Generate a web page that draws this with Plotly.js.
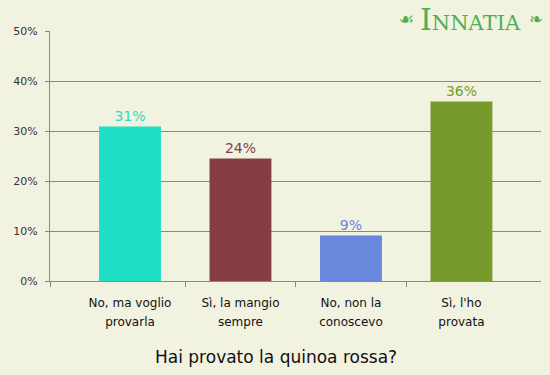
<!DOCTYPE html>
<html><head><meta charset="utf-8">
<script src="https://cdn.plot.ly/plotly-3.0.1.min.js"></script>
<style>html,body{margin:0;padding:0;background:#f2f2e1;}#chart{width:550px;height:375px;}</style>
</head><body><div id="chart"></div>
<script>
const categories = ["No, ma voglio provarla", "Sì, la mangio sempre", "No, non la conoscevo", "Sì, l'ho provata"];
const labelLine1 = ["No, ma voglio", "Sì, la mangio", "No, non la", "Sì, l'ho"];
const labelLine2 = ["provarla", "sempre", "conoscevo", "provata"];
const values = [30.9, 24.5, 9.1, 35.9];
const valueLabels = ["31%", "24%", "9%", "36%"];
const colors = ["#1fdfc6", "#873d45", "#6a87de", "#769b2c"];
const yTicks = [0, 10, 20, 30, 40, 50];
const yTickLabels = ["0%", "10%", "20%", "30%", "40%", "50%"];

const xIdx = categories.map((c, i) => i);
const xRange = [-0.724, 3.72];
const dividers = [xRange[0]].concat(xIdx.slice(0, -1).map(i => i + 0.5));

const trace = {
  type: "bar", x: xIdx, y: values, width: 0.56,
  marker: {color: colors},
  text: valueLabels, textposition: "outside",
  textfont: {family: "DejaVu Sans", size: 14, color: colors},
  cliponaxis: false, hoverinfo: "skip"
};
const dummy2 = {type: "scatter", x: [], y: [], xaxis: "x2", yaxis: "y", showlegend: false};
const dummy3 = {type: "scatter", x: [], y: [], xaxis: "x3", yaxis: "y", showlegend: false};

const layout = {
  width: 550, height: 375,
  margin: {l: 50, r: 9, t: 31, b: 94},
  paper_bgcolor: "#f2f2e1", plot_bgcolor: "#f2f2e1",
  showlegend: false,
  font: {family: "DejaVu Sans", color: "#222"},
  xaxis: {
    range: xRange, tickvals: xIdx, ticktext: labelLine1,
    ticks: "", showgrid: false, zeroline: false,
    showline: true, linecolor: "#888", linewidth: 1,
    tickfont: {size: 12, color: "#111"}, ticklabelstandoff: 11, fixedrange: true
  },
  xaxis2: {
    overlaying: "x", side: "bottom", range: xRange, tickvals: xIdx, ticktext: labelLine2,
    ticks: "", showgrid: false, zeroline: false, showline: false,
    tickfont: {size: 12, color: "#111"}, ticklabelstandoff: 32
  },
  xaxis3: {
    overlaying: "x", side: "bottom", range: xRange, tickvals: dividers,
    ticks: "outside", ticklen: 5, tickcolor: "#888", showticklabels: false,
    showgrid: false, zeroline: false, showline: false
  },
  yaxis: {
    range: [0, 50], tickvals: yTicks, ticktext: yTickLabels,
    ticks: "outside", ticklen: 4, tickcolor: "#888", ticklabelstandoff: 5,
    showgrid: true, gridcolor: "#888", gridwidth: 1,
    zeroline: false, showline: true, linecolor: "#888", linewidth: 1,
    tickfont: {size: 11, color: "#333"}, fixedrange: true
  },
  annotations: [
    {text: "Hai provato la quinoa rossa?", xref: "paper", yref: "paper",
     x: 0.46, y: -0.305, xanchor: "center", yanchor: "middle", showarrow: false,
     font: {family: "DejaVu Sans", size: 17, color: "#111"}},
    {text: "<span style='font-size:30px'>I</span>NNATIA", xref: "paper", yref: "paper",
     x: 0.857, y: 1.0, yshift: -8, xanchor: "center", yanchor: "bottom", showarrow: false,
     font: {family: "DejaVu Serif", size: 21, color: "#4caf50"}},
    {text: "\u2619", xref: "paper", yref: "paper", x: 0.727, y: 1.0, yshift: 0, xanchor: "center", yanchor: "bottom",
     showarrow: false, font: {size: 17, color: "#4caf50"}},
    {text: "\u2767", xref: "paper", yref: "paper", x: 0.99, y: 1.0, yshift: 0, xanchor: "center", yanchor: "bottom",
     showarrow: false, font: {size: 17, color: "#4caf50"}}
  ]
};
Plotly.newPlot("chart", [trace, dummy2, dummy3], layout, {displayModeBar: false, staticPlot: true});
</script></body></html>
